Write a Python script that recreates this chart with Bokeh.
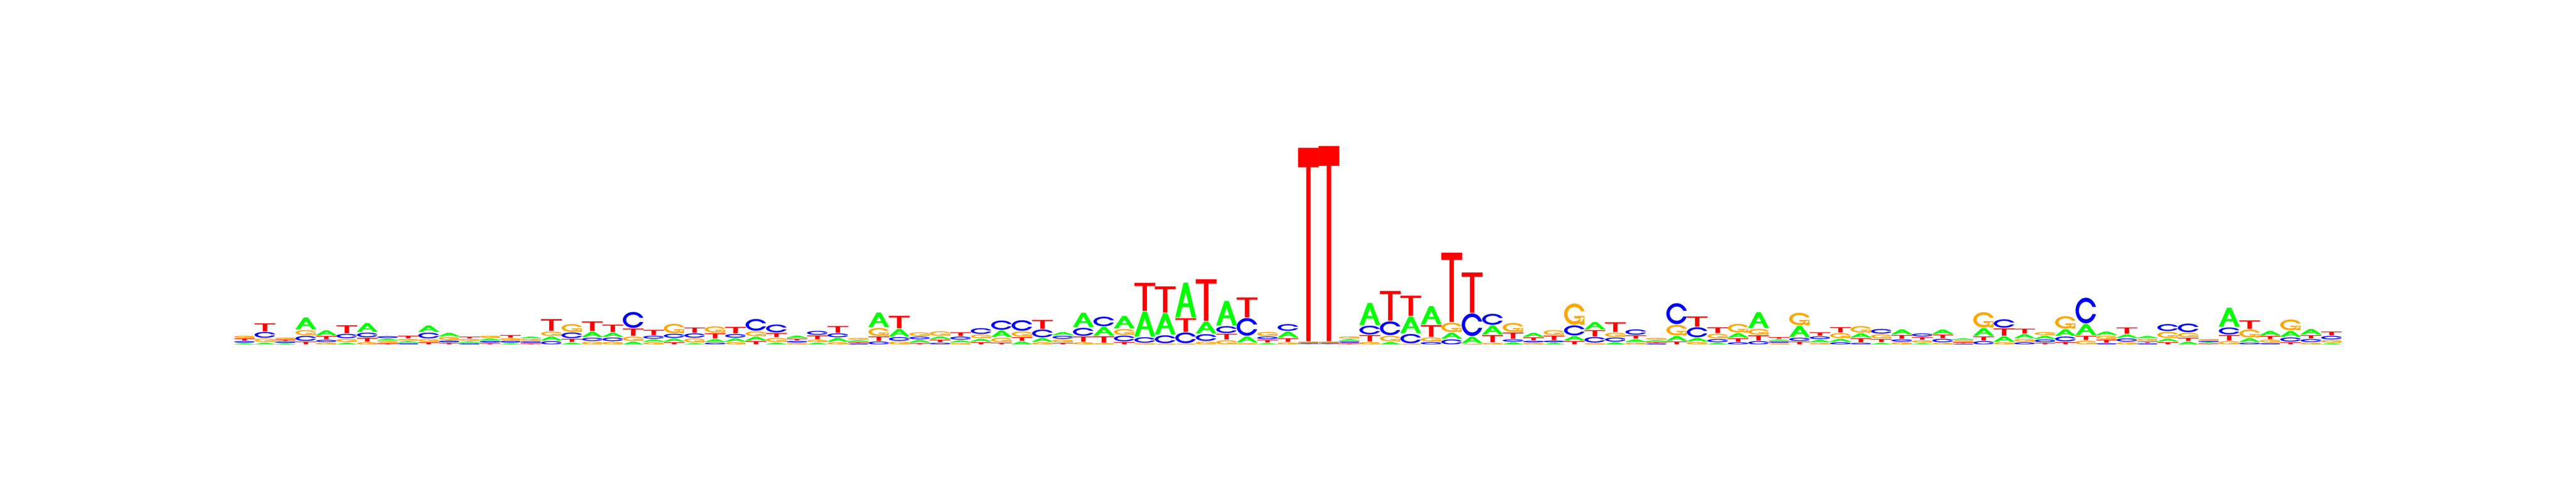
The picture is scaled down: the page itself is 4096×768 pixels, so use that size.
import numpy as np
from bokeh.plotting import figure
from bokeh.models import ColumnDataSource
from bokeh.embed import file_html
from bokeh.resources import INLINE

# Information (bits) carried by each base at each of the 103 positions
A = [0.009, 0.014, 0.007, 0.114, 0.046, 0.014, 0.084, 0.014, 0.010, 0.061,
     0.030, 0.009, 0.015, 0.009, 0.014, 0.035, 0.016, 0.049, 0.037, 0.025,
     0.019, 0.026, 0.010, 0.026, 0.028, 0.032, 0.016, 0.021, 0.014, 0.033,
     0.007, 0.142, 0.070, 0.021, 0.022, 0.018, 0.023, 0.061, 0.026, 0.032,
     0.027, 0.139, 0.082, 0.119, 0.242, 0.207, 0.339, 0.114, 0.237, 0.056,
     0.010, 0.056, 0.001, 0.001, 0.012, 0.214, 0.021, 0.161, 0.177, 0.056,
     0.061, 0.084, 0.018, 0.035, 0.012, 0.039, 0.070, 0.018, 0.024, 0.007,
     0.044, 0.030, 0.012, 0.040, 0.154, 0.010, 0.107, 0.021, 0.025, 0.038,
     0.014, 0.046, 0.010, 0.039, 0.010, 0.072, 0.049, 0.037, 0.026, 0.061,
     0.105, 0.031, 0.030, 0.018, 0.025, 0.025, 0.004, 0.184, 0.035, 0.039,
     0.054, 0.051, 0.009]
C = [0.010, 0.054, 0.008, 0.046, 0.018, 0.039, 0.042, 0.015, 0.009, 0.053,
     0.013, 0.007, 0.011, 0.013, 0.009, 0.030, 0.053, 0.028, 0.032, 0.153,
     0.026, 0.037, 0.039, 0.014, 0.032, 0.111, 0.074, 0.011, 0.035, 0.035,
     0.005, 0.026, 0.033, 0.023, 0.013, 0.026, 0.053, 0.088, 0.100, 0.074,
     0.026, 0.075, 0.091, 0.053, 0.051, 0.074, 0.102, 0.063, 0.065, 0.170,
     0.023, 0.063, 0.001, 0.001, 0.009, 0.082, 0.132, 0.088, 0.021, 0.047,
     0.219, 0.105, 0.019, 0.012, 0.013, 0.095, 0.051, 0.037, 0.049, 0.005,
     0.202, 0.095, 0.028, 0.018, 0.030, 0.009, 0.028, 0.023, 0.018, 0.012,
     0.042, 0.019, 0.025, 0.030, 0.002, 0.030, 0.079, 0.018, 0.024, 0.044,
     0.249, 0.009, 0.028, 0.007, 0.065, 0.081, 0.005, 0.065, 0.014, 0.010,
     0.037, 0.026, 0.031]
G = [0.017, 0.032, 0.010, 0.047, 0.014, 0.028, 0.019, 0.010, 0.011, 0.021,
     0.026, 0.013, 0.016, 0.016, 0.013, 0.039, 0.072, 0.025, 0.023, 0.040,
     0.018, 0.088, 0.037, 0.058, 0.019, 0.044, 0.036, 0.010, 0.019, 0.018,
     0.012, 0.074, 0.026, 0.032, 0.042, 0.010, 0.032, 0.039, 0.047, 0.018,
     0.024, 0.018, 0.009, 0.054, 0.007, 0.003, 0.003, 0.025, 0.039, 0.010,
     0.035, 0.016, 0.001, 0.001, 0.017, 0.021, 0.051, 0.002, 0.035, 0.088,
     0.002, 0.012, 0.084, 0.011, 0.044, 0.205, 0.009, 0.038, 0.014, 0.012,
     0.100, 0.021, 0.042, 0.081, 0.054, 0.008, 0.118, 0.012, 0.046, 0.060,
     0.037, 0.018, 0.017, 0.012, 0.009, 0.147, 0.018, 0.023, 0.027, 0.119,
     0.035, 0.030, 0.018, 0.017, 0.058, 0.040, 0.007, 0.030, 0.075, 0.024,
     0.102, 0.014, 0.021]
T = [0.016, 0.074, 0.009, 0.025, 0.028, 0.074, 0.032, 0.009, 0.023, 0.019,
     0.012, 0.014, 0.010, 0.021, 0.008, 0.112, 0.026, 0.091, 0.070, 0.068,
     0.047, 0.019, 0.047, 0.047, 0.061, 0.030, 0.037, 0.012, 0.032, 0.061,
     0.006, 0.039, 0.119, 0.010, 0.020, 0.032, 0.019, 0.014, 0.032, 0.084,
     0.012, 0.047, 0.058, 0.021, 0.272, 0.253, 0.130, 0.405, 0.053, 0.193,
     0.022, 0.032, 1.895, 1.911, 0.008, 0.058, 0.288, 0.195, 0.111, 0.677,
     0.391, 0.067, 0.057, 0.023, 0.039, 0.030, 0.058, 0.091, 0.028, 0.006,
     0.026, 0.096, 0.053, 0.030, 0.046, 0.012, 0.025, 0.030, 0.048, 0.037,
     0.026, 0.032, 0.023, 0.032, 0.006, 0.035, 0.068, 0.044, 0.012, 0.021,
     0.037, 0.025, 0.058, 0.008, 0.019, 0.026, 0.003, 0.049, 0.079, 0.026,
     0.019, 0.028, 0.032]

bases = ["A", "C", "G", "T"]
colors = {"A": "#00FF00", "C": "#0000FF", "G": "#FFA500", "T": "#FF0000"}
heights = {"A": A, "C": C, "G": G, "T": T}
GAP = 0.01

# ---- letter outlines in a unit box (classic seqLogo polygons) ----
def ring():
    a1 = np.linspace(0.3 + np.pi / 2, np.pi, 100)
    a2 = np.linspace(np.pi, 1.5 * np.pi, 100)
    xl1 = 0.5 + 0.5 * np.sin(a1); yl1 = 0.5 + 0.5 * np.cos(a1)
    xl2 = 0.5 + 0.5 * np.sin(a2); yl2 = 0.5 + 0.5 * np.cos(a2)
    xl = np.concatenate([xl1, xl2]); yl = np.concatenate([yl1, yl2])
    x = np.concatenate([xl, xl[::-1]]); y = np.concatenate([yl, 1 - yl[::-1]])
    xi1 = 0.5 + 0.35 * np.sin(a1); yi1 = 0.5 + 0.35 * np.cos(a1)
    m = yi1 <= yl1.max()
    xi1 = xi1[m]; yi1 = yi1[m].copy(); yi1[0] = yl1.max()
    xi2 = 0.5 + 0.35 * np.sin(a2); yi2 = 0.5 + 0.35 * np.cos(a2)
    xi = np.concatenate([xi1, xi2]); yi = np.concatenate([yi1, yi2])
    x1 = np.concatenate([xi, xi[::-1]]); y1 = np.concatenate([yi, 1 - yi[::-1]])
    X = np.concatenate([x, x1[::-1]]); Y = np.concatenate([y, y1[::-1]])
    return X, Y, xl1.max()

RX, RY, R1 = ring()
SHAPES = {
    "A": [[(np.array([0, 4, 6, 10, 8, 6.8, 3.2, 2]) * 0.1, np.array([0, 10, 10, 0, 0, 3, 3, 0]) * 0.1),
           (np.array([3.6, 5, 6.4]) * 0.1, np.array([4, 7.5, 4]) * 0.1)]],
    "C": [[(RX, RY)]],
    "G": [[(RX, RY)],
          [(np.array([R1, 0.5, 0.5, R1 - 0.2, R1 - 0.2, R1]), np.array([0.4, 0.4, 0.3, 0.3, 0, 0]))]],
    "T": [[(np.array([0, 10, 10, 6, 6, 4, 4, 0]) * 0.1, np.array([10, 10, 9, 9, 0, 0, 9, 9]) * 0.1)]],
}

xs, ys, fills = [], [], []
for k in range(len(A)):
    hts = [heights[b][k] for b in bases]
    order = sorted(range(4), key=lambda i: hts[i])
    ypos = 0.0
    for i in order:
        b = bases[i]; ht = hts[i]
        if ht > 0:
            gx, gy = [], []
            for poly in SHAPES[b]:
                gx.append([list(k + rx) for rx, ry in poly])
                gy.append([list(ypos + ht * ry) for rx, ry in poly])
            xs.append(gx); ys.append(gy); fills.append(colors[b])
        ypos += ht + GAP

src = ColumnDataSource(dict(xs=xs, ys=ys, fill=fills))

p = figure(width=4080, height=752, x_range=(0, len(A)), y_range=(0, 2.0),
           x_axis_type=None, y_axis_type=None, toolbar_location=None,
           output_backend="svg",
           min_border_left=372, min_border_right=357,
           min_border_top=223, min_border_bottom=205)
p.outline_line_color = None
p.background_fill_color = "white"
p.border_fill_color = "white"
p.multi_polygons(xs="xs", ys="ys", fill_color="fill", line_color="fill",
                 line_width=0.6, source=src)

open("out.html", "w").write(file_html(p, INLINE))
